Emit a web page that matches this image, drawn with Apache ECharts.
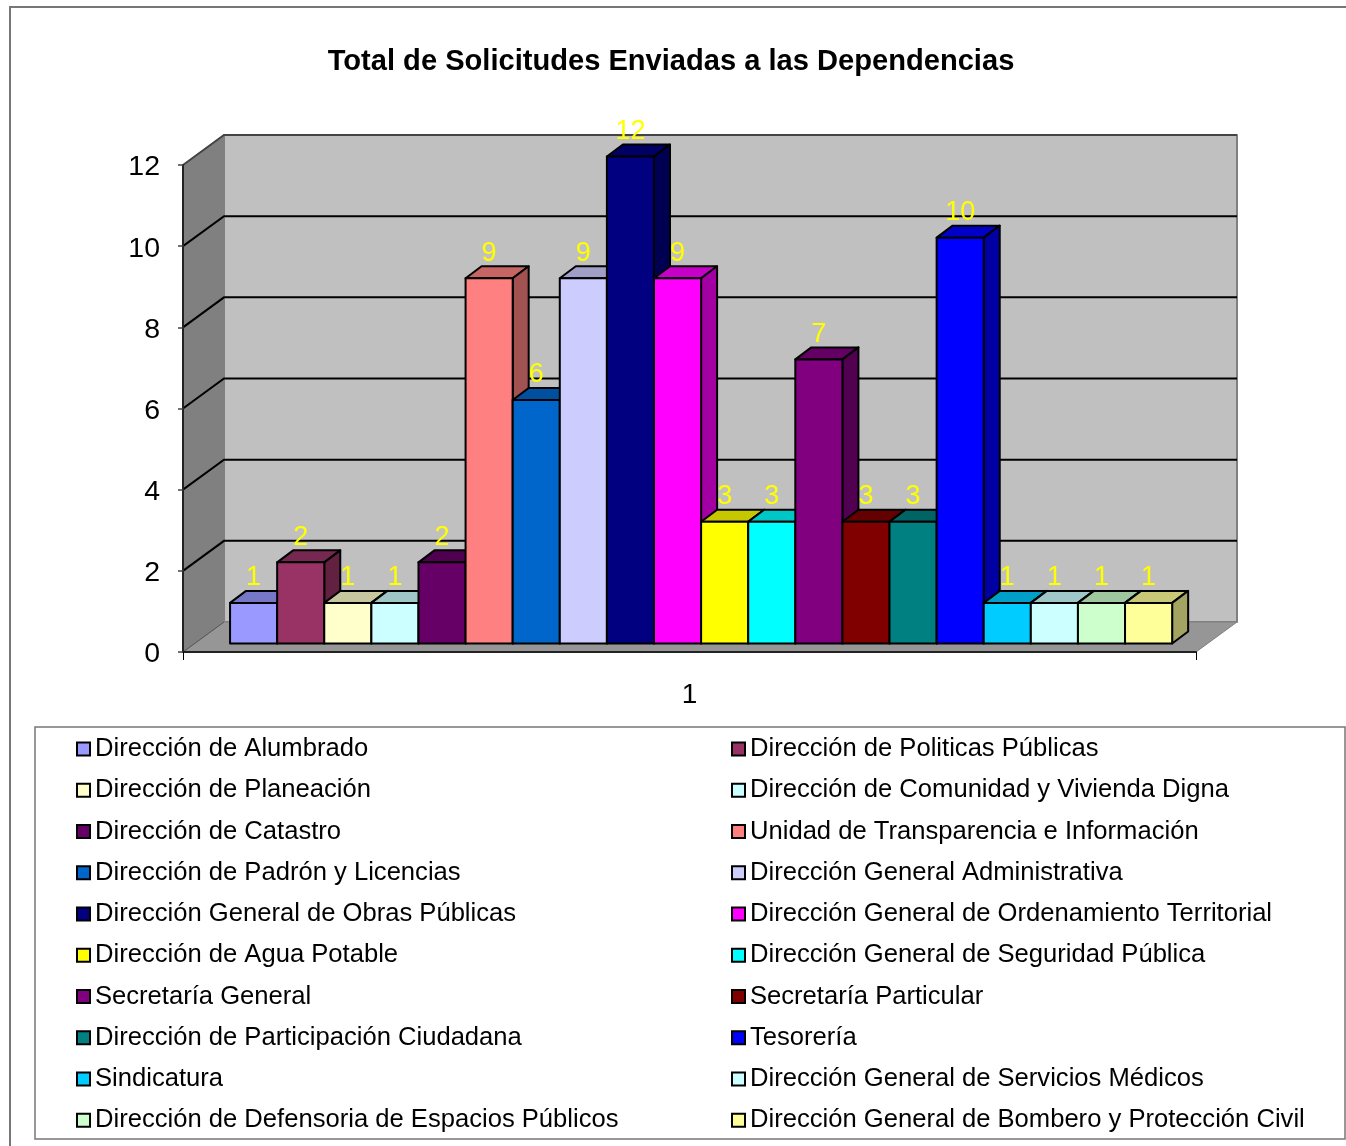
<!DOCTYPE html>
<html lang="es">
<head>
  <meta charset="UTF-8">
  <title>Total de Solicitudes Enviadas a las Dependencias</title>
  <style>
    html, body { margin: 0; padding: 0; background: #fff; }
  </style>
</head>
<body>
  <div id="main" style="width: 1346px; height: 1146px"></div>
  <script src="https://cdn.jsdelivr.net/npm/echarts@6/dist/echarts.min.js"></script>
  <script>
    const categories = ['1'];
    const yTicks = [0, 2, 4, 6, 8, 10, 12];
    const dependencias = [
      'Dirección de Alumbrado', 'Dirección de Politicas Públicas',
      'Dirección de Planeación', 'Dirección de Comunidad y Vivienda Digna',
      'Dirección de Catastro', 'Unidad de Transparencia e Información',
      'Dirección de Padrón y Licencias', 'Dirección General Administrativa',
      'Dirección General de Obras Públicas', 'Dirección General de Ordenamiento Territorial',
      'Dirección de Agua Potable', 'Dirección General de Seguridad Pública',
      'Secretaría General', 'Secretaría Particular',
      'Dirección de Participación Ciudadana', 'Tesorería',
      'Sindicatura', 'Dirección General de Servicios Médicos',
      'Dirección de Defensoria de Espacios Públicos', 'Dirección General de Bombero y Protección Civil'
    ];
    const solicitudes = [1, 2, 1, 1, 2, 9, 6, 9, 12, 9, 3, 3, 7, 3, 3, 10, 1, 1, 1, 1];
    const colores = [
      '#9999FF', '#993366', '#FFFFCC', '#CCFFFF', '#660066', '#FF8080', '#0066CC', '#CCCCFF', '#000080', '#FF00FF',
      '#FFFF00', '#00FFFF', '#800080', '#800000', '#008080', '#0000FF', '#00CCFF', '#CCFFFF', '#CCFFCC', '#FFFF99'
    ];

    const FONT = '"Liberation Sans", Arial, sans-serif';
    // fake 3D: how far the back wall and the bars are pushed up and right
    const WALL_DX = 41, WALL_DY = -30;
    const BAR_DX = 16, BAR_DY = -12;
    const FLOOR_DX = 11.6, FLOOR_DY = -8.5;

    function poly(points, fill, stroke, width) {
      return {
        type: 'polygon',
        shape: { points: points },
        style: { fill: fill, stroke: stroke, lineWidth: width, lineJoin: 'round' }
      };
    }

    // darker version of a #RRGGBB colour for the top and side faces
    function shade(hex, k) {
      const n = parseInt(hex.slice(1), 16);
      const r = Math.round((n >> 16) * k);
      const g = Math.round(((n >> 8) & 255) * k);
      const b = Math.round((n & 255) * k);
      return 'rgb(' + r + ',' + g + ',' + b + ')';
    }

    // walls and floor, drawn once behind the bars
    function renderWalls(params, api) {
      const top = api.coord([0, 12]);
      const bottom = api.coord([0, 0]);
      const band = api.size([1, 0])[0];
      const l = bottom[0] - band / 2, r = bottom[0] + band / 2;
      const yT = top[1], yB = bottom[1];
      return {
        type: 'group',
        children: [
          poly([[l + WALL_DX, yT + WALL_DY], [r + WALL_DX, yT + WALL_DY], [r + WALL_DX, yB + WALL_DY], [l + WALL_DX, yB + WALL_DY]], '#C0C0C0', '#808080', 2),
          poly([[l, yT], [l + WALL_DX, yT + WALL_DY], [l + WALL_DX, yB + WALL_DY], [l, yB]], '#808080', '#808080', 1),
          poly([[l, yB], [l + WALL_DX, yB + WALL_DY], [r + WALL_DX, yB + WALL_DY], [r, yB]], '#969696', '#808080', 1)
        ]
      };
    }

    // gridlines run along the side wall and then the back wall
    function renderGrid(params, api) {
      const p = api.coord([0, api.value(1)]);
      const band = api.size([1, 0])[0];
      const l = p[0] - band / 2, r = p[0] + band / 2;
      const isBase = api.value(1) === 0;
      const isTop = api.value(1) === 12;
      return {
        type: 'polyline',
        shape: { points: isBase
          ? [[l, p[1]], [l + WALL_DX, p[1] + WALL_DY]]
          : [[l, p[1]], [l + WALL_DX, p[1] + WALL_DY], [r + WALL_DX, p[1] + WALL_DY]] },
        style: {
          fill: 'none',
          stroke: isBase ? '#555' : isTop ? '#444' : '#000',
          lineWidth: isBase ? 1 : 2
        }
      };
    }

    function renderBar(i) {
      return function (params, api) {
        const v = api.value(1);
        const top = api.coord([0, v]);
        const base = api.coord([0, 0]);
        const w = api.size([1, 0])[0] * 0.0465;
        const x0 = top[0] + FLOOR_DX + (i - 10) * w;
        const x1 = x0 + w;
        const yT = top[1] + FLOOR_DY;
        const yB = base[1] + FLOOR_DY;
        const c = colores[i];
        return {
          type: 'group',
          children: [
            poly([[x0, yT], [x0 + BAR_DX, yT + BAR_DY], [x1 + BAR_DX, yT + BAR_DY], [x1, yT]], shade(c, 0.78), '#000', 2),
            poly([[x1, yT], [x1 + BAR_DX, yT + BAR_DY], [x1 + BAR_DX, yB + BAR_DY], [x1, yB]], shade(c, 0.64), '#000', 2),
            poly([[x0, yT], [x1, yT], [x1, yB], [x0, yB]], c, '#000', 2),
            {
              type: 'text',
              style: {
                text: String(v),
                x: (x0 + x1) / 2,
                y: yT - 25,
                align: 'center',
                verticalAlign: 'middle',
                fill: '#FFFF00',
                font: '27px ' + FONT
              }
            }
          ]
        };
      };
    }

    const barSeries = dependencias.map(function (name, i) {
      return {
        name: name,
        type: 'custom',
        coordinateSystem: 'cartesian2d',
        z: 5,
        itemStyle: { color: colores[i] },
        encode: { x: 0, y: 1 },
        data: [[categories[0], solicitudes[i]]],
        renderItem: renderBar(i)
      };
    });

    function legendCol(left, start) {
      return {
        orient: 'vertical',
        left: left,
        top: 734.5,
        padding: 0,
        itemWidth: 13,
        itemHeight: 13,
        itemGap: 12.25,
        selectedMode: false,
        icon: 'rect',
        itemStyle: { borderColor: '#000', borderWidth: 2 },
        textStyle: { fontFamily: FONT, fontSize: 25.6, color: '#000', lineHeight: 29 },
        data: dependencias.filter(function (d, i) { return i % 2 === start; })
      };
    }

    let myChart = echarts.init(document.getElementById('main'), null, { renderer: 'canvas' });
    let option = {
      animation: false,
      backgroundColor: '#fff',
      color: colores,
      title: {
        text: 'Total de Solicitudes Enviadas a las Dependencias',
        left: 666,
        top: 42,
        textAlign: 'center',
        textStyle: { fontFamily: FONT, fontSize: 29.1, fontWeight: 'bold', color: '#000' }
      },
      legend: [legendCol(76, 0), legendCol(731, 1)],
      grid: { left: 183, right: 150, top: 165, bottom: 494 },
      xAxis: {
        type: 'category',
        data: categories,
        z: 8,
        axisLine: { lineStyle: { color: '#222', width: 2 } },
        axisTick: { show: true, length: 8, lineStyle: { color: '#000', width: 1 } },
        axisLabel: { fontFamily: FONT, fontSize: 28, color: '#000', margin: 29 }
      },
      yAxis: {
        type: 'value',
        min: 0,
        max: 12,
        interval: 2,
        z: 8,
        axisLine: { show: true, lineStyle: { color: '#222', width: 2 } },
        axisTick: { show: true, length: 5, lineStyle: { color: '#444', width: 1.5 } },
        axisLabel: {
          margin: 23,
          formatter: '{t|{value}}',
          rich: { t: { fontFamily: FONT, fontSize: 28.5, color: '#000', padding: [5, 0, 0, 0] } }
        },
        splitLine: { show: false }
      },
      graphic: [
        { type: 'rect', z: -10, shape: { x: 10, y: 7, width: 1400, height: 1200 }, style: { fill: 'none', stroke: '#777', lineWidth: 2 } },
        { type: 'rect', z: -10, shape: { x: 35, y: 727, width: 1310, height: 412 }, style: { fill: 'none', stroke: '#777', lineWidth: 1.5 } }
      ],
      series: [
        { type: 'custom', name: 'paredes', z: 1, data: [[categories[0], 0]], encode: { x: 0, y: 1 }, renderItem: renderWalls },
        { type: 'custom', name: 'rejilla', z: 2, data: yTicks.map(function (t) { return [categories[0], t]; }), encode: { x: 0, y: 1 }, renderItem: renderGrid }
      ].concat(barSeries)
    };
    myChart.setOption(option);
  </script>
</body>
</html>
